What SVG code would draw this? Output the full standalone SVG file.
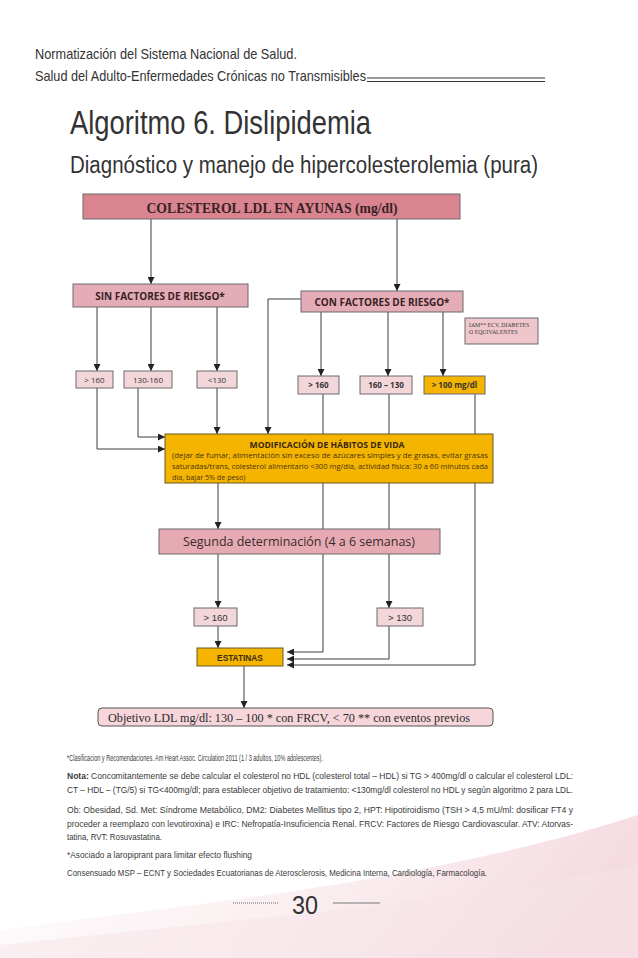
<svg xmlns="http://www.w3.org/2000/svg" width="638" height="958" viewBox="0 0 638 958">
<defs>
<marker id="ah" markerUnits="userSpaceOnUse" markerWidth="7" markerHeight="7" refX="7" refY="3.5" orient="auto">
<path d="M0,0 L7,3.5 L0,7 z" fill="#222"/>
</marker>
<linearGradient id="sw" x1="0" y1="0" x2="1" y2="0.2">
<stop offset="0" stop-color="#fbeff2" stop-opacity="0.2"/>
<stop offset="0.6" stop-color="#f7e2e6" stop-opacity="0.6"/>
<stop offset="1" stop-color="#f2d2d9" stop-opacity="0.8"/>
</linearGradient>
<style>
.hd{font-family:"Liberation Sans",Arial,sans-serif;fill:#333}
.bx{stroke:#6b6b6b;stroke-width:1}
.cn path{fill:none;stroke:#3c3c3c;stroke-width:1}
.sa{font-family:"Open Sans","Liberation Sans",sans-serif}
.ar{font-family:"Liberation Sans",Arial,sans-serif}
.tm{font-family:"Liberation Serif","Times New Roman",serif}
.nt{font-family:"Liberation Sans",Arial,sans-serif;font-size:9px;fill:#3a3a3a}
</style>
</defs>
<rect width="638" height="958" fill="#ffffff"/>
<path d="M0,958 L0,930 C180,905 420,885 638,815 L638,958 Z" fill="url(#sw)"/>
<path d="M0,958 L0,945 C220,922 430,905 638,865 L638,958 Z" fill="#f6e3e7" opacity="0.5"/>

<g id="header">
<text class="hd" x="35" y="59" font-size="14.5" textLength="262" lengthAdjust="spacingAndGlyphs">Normatización del Sistema Nacional de Salud.</text>
<text class="hd" x="35" y="81" font-size="14.5" textLength="331" lengthAdjust="spacingAndGlyphs">Salud del Adulto-Enfermedades Crónicas no Transmisibles</text>
<line x1="367" y1="78" x2="545" y2="78" stroke="#333" stroke-width="1.2"/>
<line x1="367" y1="81.5" x2="545" y2="81.5" stroke="#333" stroke-width="1.2"/>
</g>
<g id="title">
<text class="hd" x="70" y="134" font-size="34" textLength="301" lengthAdjust="spacingAndGlyphs" fill="#2a2a2a">Algoritmo 6. Dislipidemia</text>
<text class="hd" x="70" y="173" font-size="23" textLength="468" lengthAdjust="spacingAndGlyphs" fill="#2a2a2a">Diagnóstico y manejo de hipercolesterolemia (pura)</text>
</g>

<g id="connectors" class="cn">
<path d="M151,219 V284" marker-end="url(#ah)"/>
<path d="M397,219 V291" marker-end="url(#ah)"/>
<path d="M97,307 V371" marker-end="url(#ah)"/>
<path d="M151,307 V371" marker-end="url(#ah)"/>
<path d="M217,307 V371" marker-end="url(#ah)"/>
<path d="M97,388 V449 H165" marker-end="url(#ah)"/>
<path d="M138,388 V437 H165" marker-end="url(#ah)"/>
<path d="M217,388 V434" marker-end="url(#ah)"/>
<path d="M301,299 H268 V434" marker-end="url(#ah)"/>
<path d="M321,312 V376" marker-end="url(#ah)"/>
<path d="M388,312 V376" marker-end="url(#ah)"/>
<path d="M443,312 V376" marker-end="url(#ah)"/>
<path d="M323,394 V652 H287" marker-end="url(#ah)"/>
<path d="M389,394 V608" marker-end="url(#ah)"/>
<path d="M389,626 V659 H287" marker-end="url(#ah)"/>
<path d="M475,394 V665 H287" marker-end="url(#ah)"/>
<path d="M218,483 V529" marker-end="url(#ah)"/>
<path d="M218,554 V608" marker-end="url(#ah)"/>
<path d="M218,626 V648" marker-end="url(#ah)"/>
<path d="M244,666 V708" marker-end="url(#ah)"/>
</g>

<g id="n-colesterol">
<rect class="bx" x="83" y="194" width="377" height="25" fill="#d9848f"/>
<text class="tm" x="272" y="213" font-size="14" font-weight="bold" text-anchor="middle" fill="#3a2226" textLength="251" lengthAdjust="spacingAndGlyphs">COLESTEROL LDL EN AYUNAS (mg/dl)</text>
</g>
<g id="n-sin">
<rect class="bx" x="73" y="284" width="175" height="23" fill="#e4acb6"/>
<text class="sa" x="160" y="299.5" font-size="10" font-weight="bold" text-anchor="middle" fill="#3a2226">SIN FACTORES DE RIESGO*</text>
</g>
<g id="n-con">
<rect class="bx" x="301" y="291" width="162" height="21" fill="#e4acb6"/>
<text class="sa" x="382" y="305.5" font-size="10" font-weight="bold" text-anchor="middle" fill="#3a2226">CON FACTORES DE RIESGO*</text>
</g>
<g id="n-iam">
<rect class="bx" x="465" y="318" width="73" height="26" fill="#f0c6cd"/>
<text class="tm" x="469" y="327" font-size="5.8" fill="#3a3a3a">IAM** ECV, DIABETES</text>
<text class="tm" x="469" y="334" font-size="5.8" fill="#3a3a3a">O EQUIVALENTES</text>
</g>
<g id="n-s160">
<rect class="bx" x="76" y="371" width="37" height="17" fill="#f3d6da"/>
<text class="sa" x="94.5" y="382.5" font-size="8" text-anchor="middle" fill="#333">&gt; 160</text>
</g>
<g id="n-s130160">
<rect class="bx" x="124" y="371" width="48" height="17" fill="#f3d6da"/>
<text class="sa" x="148" y="382.5" font-size="8" text-anchor="middle" fill="#333">130-160</text>
</g>
<g id="n-s130">
<rect class="bx" x="197" y="371" width="40" height="17" fill="#f3d6da"/>
<text class="sa" x="217" y="383" font-size="8" text-anchor="middle" fill="#333">&lt;130</text>
</g>
<g id="n-c160">
<rect class="bx" x="298" y="376" width="41" height="18" fill="#f3d6da"/>
<text class="sa" x="318.5" y="388" font-size="8" font-weight="bold" text-anchor="middle" fill="#333">&gt; 160</text>
</g>
<g id="n-c160130">
<rect class="bx" x="360" y="376" width="52" height="18" fill="#f3d6da"/>
<text class="sa" x="386" y="388" font-size="8" font-weight="bold" text-anchor="middle" fill="#333">160 – 130</text>
</g>
<g id="n-c100">
<rect class="bx" x="424" y="376" width="61" height="18" fill="#f4b400" stroke="#7a6020"/>
<text class="sa" x="454.5" y="388" font-size="8" font-weight="bold" text-anchor="middle" fill="#333">&gt; 100 mg/dl</text>
</g>
<g id="n-modificacion">
<rect x="165" y="434" width="328" height="49" fill="#f4b400" stroke="#6b5a20" stroke-width="1"/>
<text class="sa" x="327" y="447.5" font-size="8.6" font-weight="bold" text-anchor="middle" fill="#3a2a10">MODIFICACIÓN DE HÁBITOS DE VIDA</text>
<text class="sa" x="172" y="458" font-size="7.2" fill="#4a3510" textLength="316" lengthAdjust="spacingAndGlyphs">(dejar de fumar, alimentación sin exceso de azúcares simples y de grasas, evitar grasas</text>
<text class="sa" x="172" y="469" font-size="7.2" fill="#4a3510" textLength="316" lengthAdjust="spacingAndGlyphs">saturadas/trans,  colesterol alimentario &lt;300 mg/día, actividad física: 30 a 60 minutos cada</text>
<text class="sa" x="172" y="479.5" font-size="7.2" fill="#4a3510">día, bajar 5% de peso)</text>
</g>
<g id="n-segunda">
<rect class="bx" x="159" y="529" width="281" height="25" fill="#e6aab4"/>
<text class="sa" x="299" y="546" font-size="12" text-anchor="middle" fill="#3a2a2a" textLength="232" lengthAdjust="spacingAndGlyphs">Segunda determinación (4 a 6 semanas)</text>
</g>
<g id="n-l160">
<rect class="bx" x="194" y="608" width="43" height="18" fill="#f3d6da"/>
<text class="ar" x="215.5" y="621" font-size="9.5" text-anchor="middle" fill="#333">&gt; 160</text>
</g>
<g id="n-l130">
<rect class="bx" x="377" y="608" width="46" height="18" fill="#f3d6da"/>
<text class="ar" x="400" y="621" font-size="9.5" text-anchor="middle" fill="#333">&gt; 130</text>
</g>
<g id="n-estatinas">
<rect x="197" y="648" width="86" height="18" fill="#f4b400" stroke="#6b5a20" stroke-width="1"/>
<text class="ar" x="240" y="660.5" font-size="8.3" font-weight="bold" text-anchor="middle" fill="#3a2a10">ESTATINAS</text>
</g>
<g id="n-objetivo">
<rect x="98" y="708" width="395" height="18" rx="4" fill="#f6d6db" stroke="#555" stroke-width="1"/>
<text class="tm" x="108" y="722" font-size="13" fill="#2a2a2a" textLength="362" lengthAdjust="spacingAndGlyphs">Objetivo LDL mg/dl: 130 – 100 * con FRCV, &lt; 70 ** con eventos previos</text>
</g>

<g id="notes">
<text class="nt" x="67" y="761" textLength="256" lengthAdjust="spacingAndGlyphs">*Clasificacion y Recomendaciones. Am Heart Assoc. Circulation 2011 (1 / 3 adultos, 10% adolescentes).</text>
<text class="nt" x="67" y="779" textLength="506" lengthAdjust="spacingAndGlyphs"><tspan font-weight="bold">Nota:</tspan> Concomitantemente se debe calcular el colesterol no HDL (colesterol total – HDL) si TG &gt; 400mg/dl o calcular el colesterol LDL:</text>
<text class="nt" x="67" y="793" textLength="506" lengthAdjust="spacingAndGlyphs">CT – HDL – (TG/5) si TG&lt;400mg/dl; para establecer objetivo de tratamiento: &lt;130mg/dl colesterol no HDL y según algoritmo 2 para LDL.</text>
<text class="nt" x="67" y="813" textLength="506" lengthAdjust="spacingAndGlyphs">Ob: Obesidad, Sd. Met: Síndrome Metabólico, DM2: Diabetes Mellitus tipo 2, HPT: Hipotiroidismo (TSH &gt; 4,5 mU/ml: dosificar FT4 y</text>
<text class="nt" x="67" y="827" textLength="506" lengthAdjust="spacingAndGlyphs">proceder a reemplazo con levotiroxina) e IRC: Nefropatía-Insuficiencia Renal. FRCV: Factores de Riesgo Cardiovascular. ATV: Atorvas-</text>
<text class="nt" x="67" y="840" textLength="95" lengthAdjust="spacingAndGlyphs">tatina, RVT: Rosuvastatina.</text>
<text class="nt" x="67" y="858" textLength="185" lengthAdjust="spacingAndGlyphs">*Asociado a laropiprant para limitar efecto flushing</text>
<text class="nt" x="67" y="876" textLength="420" lengthAdjust="spacingAndGlyphs">Consensuado MSP – ECNT y Sociedades Ecuatorianas de Aterosclerosis, Medicina Interna, Cardiología, Farmacología.</text>
</g>

<g id="page-number">
<line x1="233" y1="903" x2="278" y2="903" stroke="#666" stroke-width="1" stroke-dasharray="1,1"/>
<text class="hd" x="305" y="914" font-size="26" text-anchor="middle" textLength="26" lengthAdjust="spacingAndGlyphs" fill="#2a2a2a">30</text>
<line x1="333" y1="903" x2="380" y2="903" stroke="#777" stroke-width="1"/>
</g>
</svg>
